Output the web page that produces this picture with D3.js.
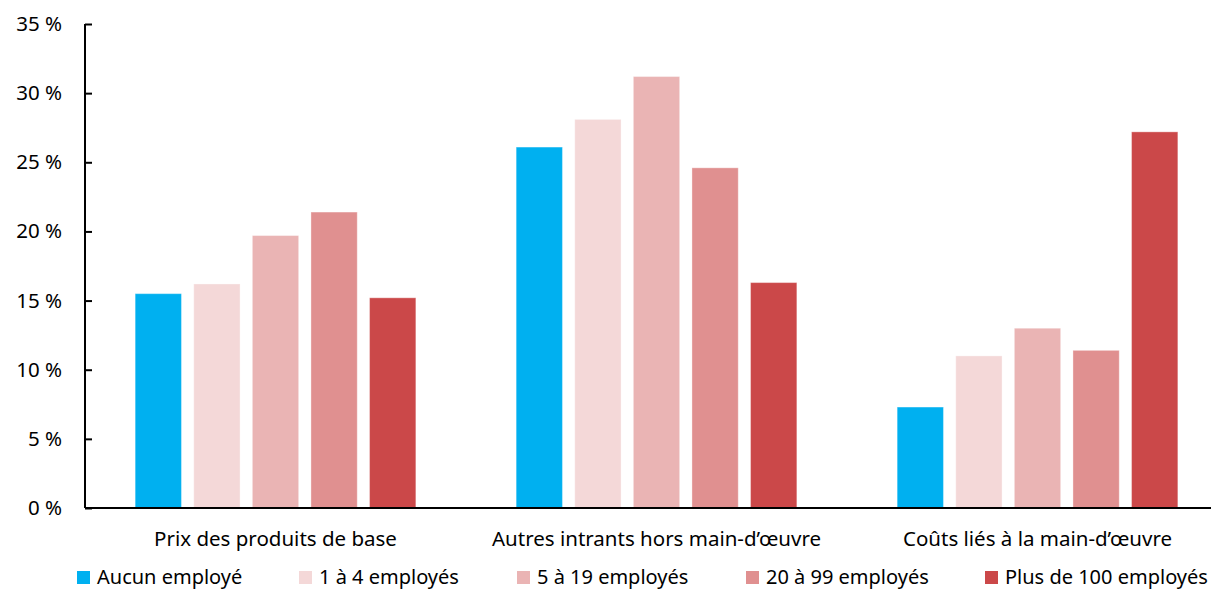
<!DOCTYPE html>
<html><head><meta charset="utf-8">
<script src="https://cdn.jsdelivr.net/npm/d3@7"></script>
<style>
html,body{margin:0;padding:0;background:#fff;}
svg{display:block;font-family:"Noto Sans",sans-serif;}
</style></head>
<body><svg id="c" width="1211" height="590"></svg>
<script>
const categories = ["Prix des produits de base", "Autres intrants hors main-d\u2019\u0153uvre", "Co\u00fbts li\u00e9s \u00e0 la main-d\u2019\u0153uvre"];
const seriesNames = ["Aucun employ\u00e9", "1 \u00e0 4 employ\u00e9s", "5 \u00e0 19 employ\u00e9s", "20 \u00e0 99 employ\u00e9s", "Plus de 100 employ\u00e9s"];
const aucun   = [15.5, 26.1, 7.3];
const emp1_4  = [16.2, 28.1, 11.0];
const emp5_19 = [19.7, 31.2, 13.0];
const emp20_99= [21.4, 24.6, 11.4];
const emp100  = [15.2, 16.3, 27.2];
const yTicks = [0, 5, 10, 15, 20, 25, 30, 35];
const colors = ["#00B0F0", "#F4D8D8", "#EAB4B4", "#E09090", "#CB4849"];

// layout (not data)
const legendX = [77, 299, 517, 746, 985];

const seriesValues = [aucun, emp1_4, emp5_19, emp20_99, emp100];
const svg = d3.select("#c");
const mLeft = 85, bandW = 381, mTop = 24, mBottom = 508;
const FS = 20.5;

const x0 = d3.scaleBand().domain(categories).range([mLeft, mLeft + bandW * 3]).padding(0);
const x1 = d3.scaleBand().domain(seriesNames).range([44, bandW - 44]).paddingInner(0.21).paddingOuter(0.105);
const y = d3.scaleLinear().domain([0, 35]).range([mBottom, mTop]);

const g = svg.append("g");
categories.forEach((c, ci) => {
  g.append("g").attr("transform", `translate(${x0(c)},0)`)
    .selectAll("rect").data(seriesNames).join("rect")
    .attr("x", s => x1(s))
    .attr("width", x1.bandwidth())
    .attr("y", (s, si) => y(seriesValues[si][ci]))
    .attr("height", (s, si) => mBottom - y(seriesValues[si][ci]))
    .attr("fill", (s, si) => colors[si])
    .attr("stroke", "rgba(255,255,255,0.35)")
    .attr("stroke-width", 1);
});

// y axis
const yAxis = d3.axisLeft(y).tickValues(yTicks).tickSize(-7).tickPadding(23).tickFormat(d => d + "\u00a0%");
const ya = svg.append("g").attr("transform", `translate(${mLeft},0)`).call(yAxis);
ya.select(".domain").attr("stroke", "#000").attr("stroke-width", 2).attr("d", `M0,${mTop}V${mBottom}`);
ya.selectAll(".tick line").attr("stroke", "#000").attr("stroke-width", 2);
ya.selectAll(".tick text").attr("font-size", FS).attr("fill", "#000").attr("font-family", "Noto Sans");

// x axis
const xAxis = d3.axisBottom(x0).tickSize(0).tickPadding(23);
const xa = svg.append("g").attr("transform", `translate(0,${mBottom})`).call(xAxis);
xa.select(".domain").attr("stroke", "#000").attr("stroke-width", 2).attr("d", `M${mLeft},0H${mLeft + bandW * 3}`);
xa.selectAll(".tick text").attr("font-size", FS).attr("fill", "#000").attr("font-family", "Noto Sans");

// legend
const leg = svg.append("g");
seriesNames.forEach((s, i) => {
  leg.append("rect").attr("x", legendX[i]).attr("y", 571).attr("width", 13).attr("height", 13).attr("fill", colors[i]);
  leg.append("text").attr("x", legendX[i] + 20).attr("y", 584).attr("font-size", 20).attr("fill", "#000").text(s);
});
</script>
</body></html>
